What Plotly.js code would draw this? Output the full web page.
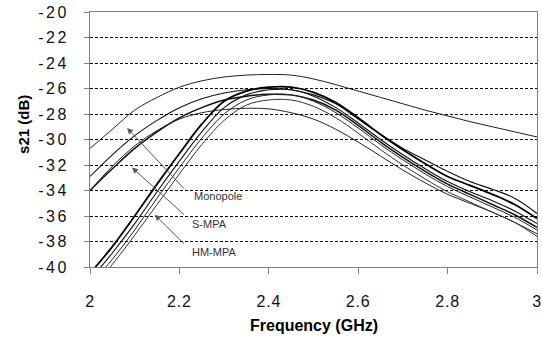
<!DOCTYPE html>
<html>
<head>
<meta charset="utf-8">
<script src="https://cdn.plot.ly/plotly-3.0.1.min.js"></script>
<style>
  html, body { margin: 0; padding: 0; background: #fff; }
  #chart { width: 542px; height: 341px; }
  .ytick text { letter-spacing: 2.5px; }
  .xtick text { letter-spacing: 0.8px; }
</style>
</head>
<body>
<div id="chart"></div>
<script>
// Frequency samples (GHz)
const freq = [2.0, 2.05, 2.1, 2.15, 2.2, 2.25, 2.3, 2.35, 2.4, 2.45, 2.5,
              2.55, 2.6, 2.65, 2.7, 2.75, 2.8, 2.85, 2.9, 2.95, 3.0];

// Monopole curve (s21, dB)
const monopole = [-30.7, -29.2, -27.7, -26.7, -25.9, -25.4, -25.1, -24.95, -24.9, -24.95, -25.25,
                  -25.7, -26.2, -26.7, -27.2, -27.7, -28.15, -28.6, -29.0, -29.4, -29.8];

// S-MPA curves
const smpa1 = [-32.9, -31.2, -29.7, -28.5, -27.5, -26.8, -26.35, -26.1, -26.0, -26.1, -26.5,
               -27.2, -28.4, -29.6, -30.7, -31.6, -32.5, -33.3, -33.9, -34.6, -35.8];
const smpa2 = [-34.0, -32.3, -30.7, -29.4, -28.3, -27.5, -26.9, -26.6, -26.45, -26.5, -26.9,
               -27.7, -28.9, -30.2, -31.4, -32.5, -33.5, -34.3, -35.1, -35.9, -36.9];
const smpa3 = [-34.0, -32.1, -30.5, -29.3, -28.4, -27.9, -27.65, -27.55, -27.6, -27.9, -28.4,
               -29.2, -30.2, -31.3, -32.4, -33.4, -34.3, -35.0, -35.7, -36.5, -37.4];

// HM-MPA curves
const hm1 = [-40.5, -38.4, -36.0, -33.5, -31.1, -28.8, -27.0, -26.2, -25.9, -25.9, -26.3,
             -27.1, -28.3, -29.6, -30.8, -31.9, -32.9, -33.6, -34.3, -35.1, -36.2];
const hm2 = [-41.0, -38.9, -36.6, -34.1, -31.7, -29.4, -27.5, -26.5, -26.1, -26.1, -26.6,
             -27.5, -28.7, -30.0, -31.2, -32.3, -33.3, -34.1, -34.8, -35.6, -36.6];
const hm3 = [-41.4, -39.4, -37.1, -34.6, -32.2, -29.9, -28.0, -26.9, -26.5, -26.5, -27.0,
             -27.9, -29.1, -30.4, -31.6, -32.7, -33.7, -34.5, -35.3, -36.1, -37.1];
const hm4 = [-41.8, -39.8, -37.5, -35.1, -32.7, -30.4, -28.5, -27.3, -26.9, -26.9, -27.4,
             -28.3, -29.5, -30.8, -32.0, -33.1, -34.1, -34.9, -35.7, -36.5, -37.6];

// Axis ticks
const xTicks = [2, 2.2, 2.4, 2.6, 2.8, 3];
const xTickText = ['2', '2.2', '2.4', '2.6', '2.8', '3'];
const yTicks = [-40, -38, -36, -34, -32, -30, -28, -26, -24, -22, -20];

// Label annotations
const labelNames = ['Monopole', 'S-MPA', 'HM-MPA'];
const arrowHeadX = [2.083, 2.094, 2.145];
const arrowHeadY = [-29.1, -32.2, -35.9];
const arrowTailX = [2.217, 2.217, 2.217];
const arrowTailY = [-34.1, -36.1, -38.4];
const labelX = [2.228, 2.224, 2.224];
const labelY = [-34.4, -36.6, -38.8];

const series = [
  {y: monopole, w: 1.0, c: '#222'},
  {y: smpa1, w: 1.1, c: '#111'},
  {y: smpa2, w: 1.5, c: '#111'},
  {y: smpa3, w: 1.0, c: '#222'},
  {y: hm1, w: 1.8, c: '#000'},
  {y: hm2, w: 1.1, c: '#111'},
  {y: hm3, w: 1.0, c: '#222'},
  {y: hm4, w: 1.0, c: '#333'}
];

const traces = series.map(s => ({
  type: 'scatter', mode: 'lines', x: freq, y: s.y,
  line: {color: s.c, width: s.w, shape: 'spline', smoothing: 1},
  hoverinfo: 'skip', showlegend: false
}));

const annotations = [];
for (let i = 0; i < labelNames.length; i++) {
  annotations.push({
    x: arrowHeadX[i], y: arrowHeadY[i], xref: 'x', yref: 'y',
    ax: arrowTailX[i], ay: arrowTailY[i], axref: 'x', ayref: 'y',
    text: ' ', showarrow: true, arrowhead: 2, arrowsize: 1.2, arrowwidth: 1,
    arrowcolor: '#555', standoff: 0, startstandoff: 0
  });
  annotations.push({
    x: labelX[i], y: labelY[i], xref: 'x', yref: 'y',
    text: labelNames[i], showarrow: false, xanchor: 'left', yanchor: 'middle',
    font: {family: 'Liberation Sans, Arial, sans-serif', size: 11, color: '#333'}
  });
}
annotations.push({
  xref: 'paper', yref: 'paper', x: 0.5, y: -0.2275, xanchor: 'center', yanchor: 'middle',
  text: '<b>Frequency (GHz)</b>', showarrow: false,
  font: {family: 'Liberation Sans, Arial, sans-serif', size: 16, color: '#000'}
});
annotations.push({
  xref: 'paper', yref: 'paper', x: -0.1477, y: 0.561, xanchor: 'center', yanchor: 'middle',
  text: '<b>s21 (dB)</b>', textangle: -90, showarrow: false,
  font: {family: 'Liberation Sans, Arial, sans-serif', size: 15, color: '#000'}
});

const layout = {
  width: 542, height: 341,
  margin: {l: 90, r: 5, t: 12, b: 74, pad: 0},
  paper_bgcolor: '#fff', plot_bgcolor: '#fff',
  font: {family: 'Liberation Sans, Arial, sans-serif', color: '#000'},
  xaxis: {
    range: [2, 3], tickvals: xTicks, ticktext: xTickText,
    showgrid: false, zeroline: false,
    showline: true, mirror: true, linecolor: '#808080', linewidth: 1,
    ticks: 'outside', ticklen: 6, tickcolor: '#808080',
    tickfont: {size: 16, color: '#111'}, ticklabelstandoff: 14
  },
  yaxis: {
    range: [-40, -20], tickvals: yTicks, ticktext: yTicks.map(v => String(v)),
    showgrid: true, gridcolor: '#000', gridwidth: 1, griddash: '3px,2px',
    zeroline: false,
    showline: true, mirror: true, linecolor: '#808080', linewidth: 1,
    ticks: 'outside', ticklen: 5, tickcolor: '#808080',
    tickfont: {size: 16, color: '#111'}, ticklabelstandoff: 12
  },
  annotations: annotations
};

Plotly.newPlot('chart', traces, layout, {staticPlot: true, displayModeBar: false});
</script>
</body>
</html>
